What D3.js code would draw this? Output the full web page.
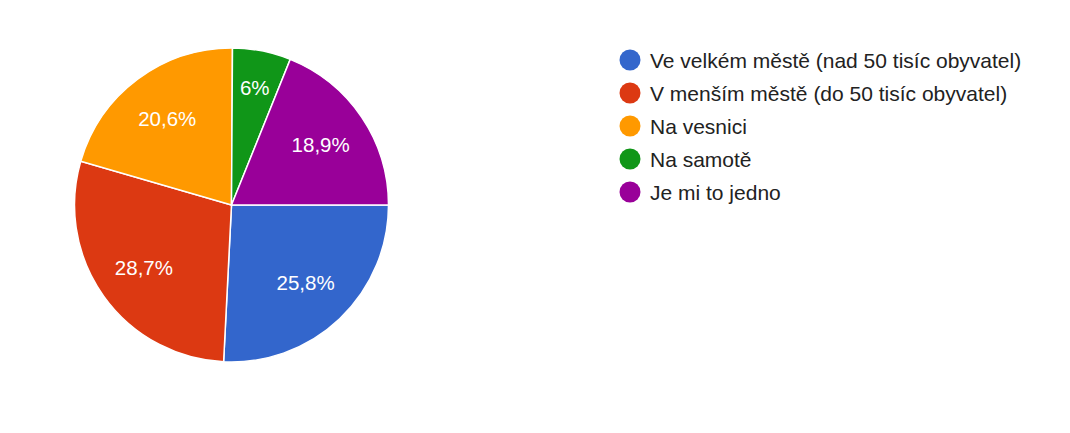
<!DOCTYPE html>
<html>
<head>
<meta charset="utf-8">
<script src="https://cdn.jsdelivr.net/npm/d3@7"></script>
<style>
  html, body { margin: 0; padding: 0; background: #fff; }
  svg { display: block; }
</style>
</head>
<body>
<svg id="chart" width="1070" height="433"></svg>
<script>
// Where respondents would like to live (share of answers)
const categories = [
  "Ve velkém městě (nad 50 tisíc obyvatel)",
  "V menším městě (do 50 tisíc obyvatel)",
  "Na vesnici",
  "Na samotě",
  "Je mi to jedno"
];
const values = [25.8, 28.7, 20.6, 6, 18.9];
const labels = ["25,8%", "28,7%", "20,6%", "6%", "18,9%"];
const colors = ["#3366cc", "#dc3912", "#ff9900", "#109618", "#990099"];

const svg = d3.select("#chart");
const font = "Arial, 'Liberation Sans', sans-serif";

const cx = 231.5, cy = 205, R = 157;

const pie = d3.pie()
  .sort(null)
  .value(d => d)
  .startAngle(Math.PI / 2)
  .endAngle(Math.PI / 2 + 2 * Math.PI);

const arcs = pie(values);
const arc = d3.arc().innerRadius(0).outerRadius(R);

const g = svg.append("g").attr("transform", `translate(${cx},${cy})`);

g.selectAll("path.slice")
  .data(arcs)
  .join("path")
  .attr("class", "slice")
  .attr("d", arc)
  .attr("fill", (d, i) => colors[i])
  .attr("stroke", "#fff")
  .attr("stroke-width", 1.5);

// Labels sit inside each slice; narrow slices push the label further out
g.selectAll("text.pct")
  .data(arcs)
  .join("text")
  .attr("class", "pct")
  .attr("transform", d => {
    const share = (d.endAngle - d.startAngle) / (2 * Math.PI);
    const r = share < 0.1 ? R * 0.765 : R * 0.685;
    const a = (d.startAngle + d.endAngle) / 2;
    return `translate(${r * Math.sin(a)},${-r * Math.cos(a)})`;
  })
  .attr("text-anchor", "middle")
  .attr("dy", "0.36em")
  .attr("fill", "#fff")
  .attr("font-family", font)
  .attr("font-size", 20.5)
  .text((d, i) => labels[i]);

// Legend
const legend = svg.append("g").attr("transform", "translate(630,60)");
const rowH = 33;
const rows = legend.selectAll("g.row")
  .data(categories)
  .join("g")
  .attr("class", "row")
  .attr("transform", (d, i) => `translate(0,${i * rowH})`);

rows.append("circle")
  .attr("r", 10.5)
  .attr("fill", (d, i) => colors[i]);

rows.append("text")
  .attr("x", 20)
  .attr("dy", "0.36em")
  .attr("fill", "#222")
  .attr("font-family", font)
  .attr("font-size", 21)
  .text(d => d);
</script>
</body>
</html>
